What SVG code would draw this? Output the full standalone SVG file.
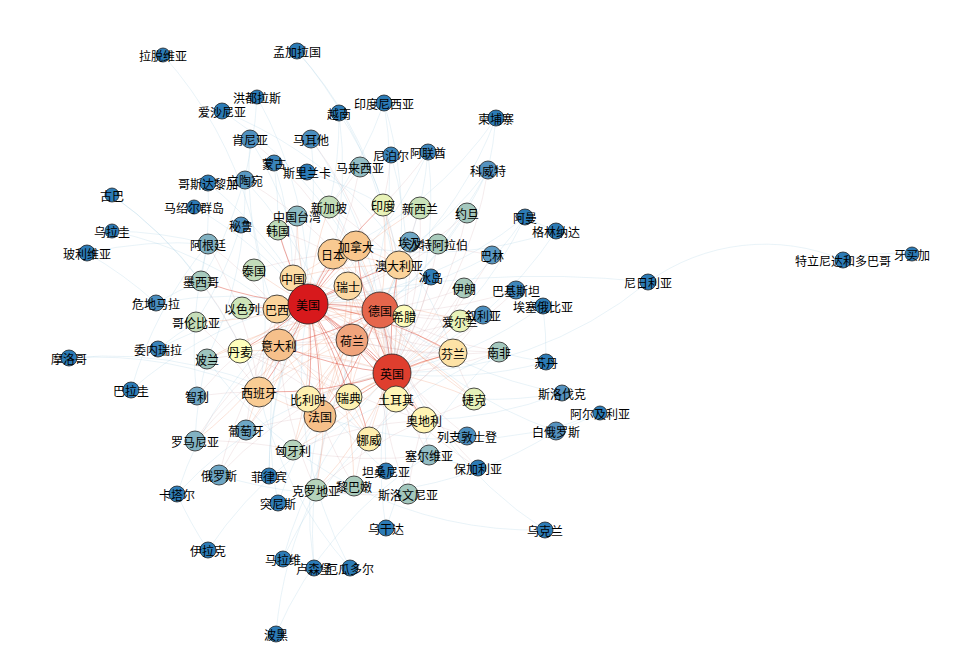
<svg xmlns="http://www.w3.org/2000/svg" width="973" height="653" viewBox="0 0 973 653">
<style>
.n circle{stroke:#222;stroke-width:0.8}
.n text{font-family:"Noto Sans CJK SC","Noto Sans",sans-serif;font-size:12px;text-anchor:middle;dominant-baseline:central;fill:#000}
#edges path{fill:none}
.e1{stroke:#d7301f;stroke-opacity:.4;stroke-width:1}
.e2{stroke:#ef8a62;stroke-opacity:.3;stroke-width:.8}
.e3{stroke:#c9959b;stroke-opacity:.3;stroke-width:.6}
.e4{stroke:#9ecae1;stroke-opacity:.38;stroke-width:.6}
</style>
<rect width="973" height="653" fill="#fff"/>
<g id="edges">
<g class="e4">
<path d="M163 55A400 400 0 0 1 259 392"/>
<path d="M222 111A400 400 0 0 1 453 353"/>
<path d="M222 111A400 400 0 0 1 380 310"/>
<path d="M257 97A400 400 0 0 1 308 304"/>
<path d="M257 97A400 400 0 0 1 201 281"/>
<path d="M297 51A400 400 0 0 1 392 373"/>
<path d="M297 51A400 400 0 0 1 383 205"/>
<path d="M339 113A400 400 0 0 1 333 254"/>
<path d="M339 113A400 400 0 0 1 399 265"/>
<path d="M339 113A400 400 0 0 1 329 207"/>
<path d="M384 103A400 400 0 0 1 399 265"/>
<path d="M384 103A400 400 0 0 1 352 340"/>
<path d="M384 103A400 400 0 0 1 329 207"/>
<path d="M391 155A400 400 0 0 1 392 373"/>
<path d="M428 152A400 400 0 0 1 392 373"/>
<path d="M428 152A400 400 0 0 1 308 304"/>
<path d="M428 152A400 400 0 0 1 380 310"/>
<path d="M496 118A400 400 0 0 1 488 170"/>
<path d="M496 118A400 400 0 0 1 399 265"/>
<path d="M496 118A400 400 0 0 1 333 254"/>
<path d="M488 170A400 400 0 0 1 438 244"/>
<path d="M488 170A400 400 0 0 1 308 304"/>
<path d="M488 170A400 400 0 0 1 380 310"/>
<path d="M525 217A400 400 0 0 1 392 373"/>
<path d="M525 217A400 400 0 0 1 464 288"/>
<path d="M525 217A400 400 0 0 1 308 304"/>
<path d="M556 231A400 400 0 0 1 392 373"/>
<path d="M556 231A400 400 0 0 1 356 246"/>
<path d="M556 231A400 400 0 0 1 525 217"/>
<path d="M648 282A400 400 0 0 1 392 373"/>
<path d="M648 282A1000 1000 0 0 0 308 304"/>
<path d="M648 282A200 200 0 0 1 843 260"/>
<path d="M843 260A200 200 0 0 1 912 254"/>
<path d="M543 306A400 400 0 0 1 392 373"/>
<path d="M543 306A400 400 0 0 1 546 362"/>
<path d="M543 306A400 400 0 0 1 516 290"/>
<path d="M546 362A400 400 0 0 1 392 373"/>
<path d="M546 362A400 400 0 0 1 499 352"/>
<path d="M562 393A400 400 0 0 1 474 399"/>
<path d="M562 393A400 400 0 0 1 424 420"/>
<path d="M562 393A400 400 0 0 1 380 310"/>
<path d="M600 413A400 400 0 0 1 320 416"/>
<path d="M600 413A400 400 0 0 1 556 431"/>
<path d="M556 431A400 400 0 0 1 219 475"/>
<path d="M556 431A400 400 0 0 1 380 310"/>
<path d="M545 530A400 400 0 0 1 380 310"/>
<path d="M545 530A400 400 0 0 1 207 359"/>
<path d="M478 468A400 400 0 0 1 429 455"/>
<path d="M386 471A400 400 0 0 1 392 373"/>
<path d="M386 471A400 400 0 0 1 250 139"/>
<path d="M386 528A400 400 0 0 1 392 373"/>
<path d="M386 528A400 400 0 0 1 499 352"/>
<path d="M350 568A400 400 0 0 1 259 392"/>
<path d="M350 568A400 400 0 0 1 308 304"/>
<path d="M314 568A400 400 0 0 1 380 310"/>
<path d="M314 568A400 400 0 0 1 320 416"/>
<path d="M283 559A400 400 0 0 1 392 373"/>
<path d="M283 559A400 400 0 0 1 499 352"/>
<path d="M276 634A400 400 0 0 1 316 490"/>
<path d="M276 634A400 400 0 0 1 429 455"/>
<path d="M208 550A400 400 0 0 1 396 399"/>
<path d="M208 550A400 400 0 0 1 177 494"/>
<path d="M177 494A400 400 0 0 1 308 304"/>
<path d="M177 494A400 400 0 0 1 392 373"/>
<path d="M278 503A400 400 0 0 1 320 416"/>
<path d="M278 503A400 400 0 0 1 279 345"/>
<path d="M269 476A400 400 0 0 1 308 304"/>
<path d="M269 476A400 400 0 0 1 333 254"/>
<path d="M195 441A400 400 0 0 1 207 359"/>
<path d="M197 396A400 400 0 0 1 208 244"/>
<path d="M131 390A400 400 0 0 1 208 244"/>
<path d="M131 390A400 400 0 0 1 277 309"/>
<path d="M69 358A400 400 0 0 1 320 416"/>
<path d="M69 358A400 400 0 0 1 259 392"/>
<path d="M158 349A400 400 0 0 1 196 322"/>
<path d="M158 349A400 400 0 0 1 308 304"/>
<path d="M156 303A400 400 0 0 1 201 281"/>
<path d="M156 303A400 400 0 0 1 308 304"/>
<path d="M87 253A400 400 0 0 1 208 244"/>
<path d="M87 253A400 400 0 0 1 156 303"/>
<path d="M112 231A400 400 0 0 1 208 244"/>
<path d="M112 231A400 400 0 0 1 277 309"/>
<path d="M112 195A400 400 0 0 1 201 281"/>
<path d="M112 195A400 400 0 0 1 259 392"/>
<path d="M194 207A400 400 0 0 1 308 304"/>
<path d="M241 225A400 400 0 0 1 308 304"/>
<path d="M241 225A400 400 0 0 1 196 322"/>
<path d="M208 183A400 400 0 0 1 308 304"/>
<path d="M208 183A400 400 0 0 1 201 281"/>
<path d="M245 180A400 400 0 0 1 207 359"/>
<path d="M245 180A400 400 0 0 1 349 397"/>
<path d="M274 163A400 400 0 0 1 293 278"/>
<path d="M274 163A400 400 0 0 1 278 230"/>
<path d="M307 172A400 400 0 0 1 383 205"/>
<path d="M307 172A400 400 0 0 1 392 373"/>
<path d="M250 139A400 400 0 0 1 308 304"/>
<path d="M311 139A400 400 0 0 1 279 345"/>
<path d="M311 139A400 400 0 0 1 380 310"/>
<path d="M492 255A400 400 0 0 1 308 304"/>
<path d="M467 213A400 400 0 0 1 380 310"/>
<path d="M410 242A400 400 0 0 1 380 310"/>
</g>
<g class="e3">
<path d="M208 244A400 400 0 0 1 277 309"/>
<path d="M208 244A400 400 0 0 1 259 392"/>
<path d="M410 242A400 400 0 0 1 392 373"/>
<path d="M438 244A400 400 0 0 1 308 304"/>
<path d="M464 288A400 400 0 0 1 380 310"/>
<path d="M467 213A400 400 0 0 1 392 373"/>
<path d="M499 352A400 400 0 0 1 392 373"/>
<path d="M316 490A400 400 0 0 1 380 310"/>
<path d="M354 486A400 400 0 0 1 320 416"/>
<path d="M408 494A400 400 0 0 1 424 420"/>
<path d="M429 455A400 400 0 0 1 424 420"/>
<path d="M195 441A400 400 0 0 1 279 345"/>
<path d="M219 475A400 400 0 0 1 380 310"/>
<path d="M246 430A400 400 0 0 1 320 416"/>
<path d="M197 396A400 400 0 0 1 259 392"/>
<path d="M254 270A400 400 0 0 1 333 254"/>
<path d="M278 230A400 400 0 0 1 333 254"/>
<path d="M297 216A400 400 0 0 1 293 278"/>
<path d="M329 207A400 400 0 0 1 399 265"/>
<path d="M360 167A400 400 0 0 1 329 207"/>
<path d="M420 208A400 400 0 0 1 392 373"/>
<path d="M488 170A400 400 0 0 1 392 373"/>
<path d="M311 139A400 400 0 0 1 392 373"/>
<path d="M250 139A400 400 0 0 1 392 373"/>
<path d="M245 180A400 400 0 0 1 380 310"/>
<path d="M391 155A400 400 0 0 1 383 205"/>
<path d="M428 152A400 400 0 0 1 383 205"/>
<path d="M242 308A400 400 0 0 1 380 310"/>
<path d="M242 308A400 400 0 0 1 392 373"/>
<path d="M201 281A400 400 0 0 1 259 392"/>
<path d="M196 322A400 400 0 0 1 259 392"/>
<path d="M207 359A400 400 0 0 1 392 373"/>
<path d="M293 450A400 400 0 0 1 424 420"/>
<path d="M316 490A400 400 0 0 1 424 420"/>
<path d="M408 494A400 400 0 0 1 380 310"/>
<path d="M429 455A400 400 0 0 1 380 310"/>
<path d="M410 242A400 400 0 0 1 308 304"/>
<path d="M438 244A400 400 0 0 1 392 373"/>
<path d="M464 288A400 400 0 0 1 392 373"/>
<path d="M467 213A400 400 0 0 1 308 304"/>
<path d="M499 352A400 400 0 0 1 308 304"/>
<path d="M499 352A400 400 0 0 1 352 340"/>
<path d="M499 352A400 400 0 0 1 380 310"/>
<path d="M474 399A400 400 0 0 1 424 420"/>
<path d="M474 399A400 400 0 0 1 453 353"/>
<path d="M460 321A400 400 0 0 1 380 310"/>
<path d="M460 321A400 400 0 0 1 352 340"/>
<path d="M240 351A400 400 0 0 1 349 397"/>
<path d="M240 351A400 400 0 0 1 369 439"/>
<path d="M369 439A400 400 0 0 1 453 353"/>
<path d="M453 353A400 400 0 0 1 352 340"/>
<path d="M329 207A400 400 0 0 1 392 373"/>
<path d="M360 167A400 400 0 0 1 308 304"/>
<path d="M278 230A400 400 0 0 1 293 278"/>
<path d="M383 205A400 400 0 0 1 399 265"/>
<path d="M420 208A400 400 0 0 1 399 265"/>
<path d="M431 277A400 400 0 0 1 380 310"/>
<path d="M431 277A400 400 0 0 1 392 373"/>
<path d="M483 315A400 400 0 0 1 380 310"/>
<path d="M483 315A400 400 0 0 1 396 399"/>
<path d="M492 255A400 400 0 0 1 392 373"/>
<path d="M492 255A400 400 0 0 1 438 244"/>
<path d="M516 290A400 400 0 0 1 392 373"/>
<path d="M516 290A400 400 0 0 1 308 304"/>
<path d="M464 288A400 400 0 0 1 396 399"/>
<path d="M396 399A400 400 0 0 1 424 420"/>
<path d="M424 420A400 400 0 0 1 279 345"/>
<path d="M404 316A400 400 0 0 1 279 345"/>
<path d="M467 436A400 400 0 0 1 348 286"/>
<path d="M467 436A400 400 0 0 1 424 420"/>
<path d="M478 468A400 400 0 0 1 380 310"/>
<path d="M478 468A400 400 0 0 1 396 399"/>
<path d="M429 455A400 400 0 0 1 293 450"/>
<path d="M408 494A400 400 0 0 1 316 490"/>
<path d="M316 490A400 400 0 0 1 279 345"/>
<path d="M195 441A400 400 0 0 1 380 310"/>
<path d="M195 441A400 400 0 0 1 293 450"/>
<path d="M219 475A400 400 0 0 1 453 353"/>
<path d="M219 475A400 400 0 0 1 308 304"/>
<path d="M197 396A400 400 0 0 1 308 304"/>
<path d="M246 430A400 400 0 0 1 277 309"/>
<path d="M354 486A400 400 0 0 1 392 373"/>
<path d="M293 450A400 400 0 0 1 320 416"/>
</g>
<g class="e2">
<path d="M333 254A400 400 0 0 1 356 246"/>
<path d="M333 254A400 400 0 0 1 293 278"/>
<path d="M333 254A400 400 0 0 1 380 310"/>
<path d="M356 246A400 400 0 0 1 399 265"/>
<path d="M348 286A400 400 0 0 1 352 340"/>
<path d="M348 286A400 400 0 0 1 392 373"/>
<path d="M348 286A400 400 0 0 1 279 345"/>
<path d="M348 286A400 400 0 0 1 320 416"/>
<path d="M352 340A400 400 0 0 1 320 416"/>
<path d="M352 340A400 400 0 0 1 279 345"/>
<path d="M352 340A400 400 0 0 1 308 399"/>
<path d="M352 340A400 400 0 0 1 349 397"/>
<path d="M279 345A400 400 0 0 1 259 392"/>
<path d="M320 416A400 400 0 0 1 259 392"/>
<path d="M349 397A400 400 0 0 1 453 353"/>
<path d="M349 397A400 400 0 0 1 369 439"/>
<path d="M349 397A400 400 0 0 1 392 373"/>
<path d="M453 353A400 400 0 0 1 380 310"/>
<path d="M424 420A400 400 0 0 1 380 310"/>
<path d="M424 420A400 400 0 0 1 392 373"/>
<path d="M396 399A400 400 0 0 1 380 310"/>
<path d="M404 316A400 400 0 0 1 392 373"/>
<path d="M308 399A400 400 0 0 1 392 373"/>
<path d="M369 439A400 400 0 0 1 392 373"/>
<path d="M240 351A400 400 0 0 1 392 373"/>
<path d="M240 351A400 400 0 0 1 380 310"/>
<path d="M293 278A400 400 0 0 1 399 265"/>
<path d="M333 254A400 400 0 0 1 399 265"/>
<path d="M356 246A400 400 0 0 1 380 310"/>
<path d="M277 309A400 400 0 0 1 259 392"/>
<path d="M277 309A400 400 0 0 1 279 345"/>
<path d="M293 278A400 400 0 0 1 380 310"/>
<path d="M293 278A400 400 0 0 1 392 373"/>
<path d="M399 265A400 400 0 0 1 380 310"/>
<path d="M259 392A400 400 0 0 1 380 310"/>
<path d="M259 392A400 400 0 0 1 352 340"/>
<path d="M308 399A400 400 0 0 1 380 310"/>
<path d="M349 397A400 400 0 0 1 380 310"/>
<path d="M279 345A400 400 0 0 1 320 416"/>
<path d="M474 399A400 400 0 0 1 380 310"/>
<path d="M460 321A400 400 0 0 1 392 373"/>
<path d="M383 205A400 400 0 0 1 392 373"/>
<path d="M383 205A400 400 0 0 1 380 310"/>
<path d="M424 420A400 400 0 0 1 348 286"/>
<path d="M404 316A400 400 0 0 1 308 304"/>
<path d="M246 430A400 400 0 0 1 259 392"/>
<path d="M207 359A400 400 0 0 1 380 310"/>
<path d="M293 450A400 400 0 0 1 380 310"/>
<path d="M277 309A400 400 0 0 1 392 373"/>
<path d="M277 309A400 400 0 0 1 380 310"/>
<path d="M279 345A400 400 0 0 1 369 439"/>
<path d="M320 416A400 400 0 0 1 453 353"/>
<path d="M333 254A400 400 0 0 1 392 373"/>
<path d="M356 246A400 400 0 0 1 320 416"/>
<path d="M308 304A400 400 0 0 1 246 430"/>
<path d="M308 304A400 400 0 0 1 293 450"/>
<path d="M308 304A400 400 0 0 1 316 490"/>
<path d="M308 304A400 400 0 0 1 195 441"/>
<path d="M308 304A400 400 0 0 1 354 486"/>
<path d="M308 304A400 400 0 0 1 196 322"/>
<path d="M308 304A400 400 0 0 1 207 359"/>
<path d="M308 304A400 400 0 0 1 254 270"/>
<path d="M308 304A400 400 0 0 1 297 216"/>
<path d="M308 304A400 400 0 0 1 329 207"/>
<path d="M308 304A400 400 0 0 1 420 208"/>
<path d="M308 304A400 400 0 0 1 460 321"/>
<path d="M308 304A400 400 0 0 1 474 399"/>
<path d="M392 373A400 400 0 0 1 474 399"/>
<path d="M392 373A400 400 0 0 1 293 450"/>
<path d="M392 373A400 400 0 0 1 316 490"/>
</g>
<g class="e1">
<path d="M308 304A400 400 0 0 1 380 310"/>
<path d="M308 304A400 400 0 0 1 392 373"/>
<path d="M308 304A400 400 0 0 1 352 340"/>
<path d="M308 304A400 400 0 0 1 333 254"/>
<path d="M308 304A400 400 0 0 1 356 246"/>
<path d="M308 304A400 400 0 0 1 348 286"/>
<path d="M308 304A400 400 0 0 1 293 278"/>
<path d="M308 304A400 400 0 0 1 279 345"/>
<path d="M308 304A400 400 0 0 1 320 416"/>
<path d="M308 304A400 400 0 0 1 259 392"/>
<path d="M308 304A400 400 0 0 1 399 265"/>
<path d="M308 304A400 400 0 0 1 308 399"/>
<path d="M308 304A400 400 0 0 1 349 397"/>
<path d="M308 304A400 400 0 0 1 453 353"/>
<path d="M308 304A400 400 0 0 1 396 399"/>
<path d="M308 304A400 400 0 0 1 424 420"/>
<path d="M308 304A400 400 0 0 1 369 439"/>
<path d="M380 310A400 400 0 0 1 392 373"/>
<path d="M380 310A400 400 0 0 1 352 340"/>
<path d="M380 310A400 400 0 0 1 279 345"/>
<path d="M380 310A400 400 0 0 1 320 416"/>
<path d="M392 373A400 400 0 0 1 352 340"/>
<path d="M392 373A400 400 0 0 1 320 416"/>
<path d="M392 373A400 400 0 0 1 279 345"/>
<path d="M392 373A400 400 0 0 1 356 246"/>
<path d="M392 373A400 400 0 0 1 399 265"/>
<path d="M392 373A400 400 0 0 1 259 392"/>
<path d="M392 373A400 400 0 0 1 453 353"/>
<path d="M308 304A400 400 0 0 1 240 351"/>
<path d="M308 304A400 400 0 0 1 383 205"/>
<path d="M308 304A400 400 0 0 1 278 230"/>
<path d="M308 304A400 400 0 0 1 242 308"/>
<path d="M308 304A400 400 0 0 1 201 281"/>
</g>
</g>
<g id="nodes">
<g id="n-gb" class="n"><circle cx="392" cy="373" r="19" fill="#df3e2e"/><text x="392" y="373">英国</text></g>
<g id="n-de" class="n"><circle cx="380" cy="310" r="18" fill="#e5664c"/><text x="380" y="310">德国</text></g>
<g id="n-nl" class="n"><circle cx="352" cy="340" r="16" fill="#f0a47c"/><text x="352" y="340">荷兰</text></g>
<g id="n-it" class="n"><circle cx="279" cy="345" r="16" fill="#f6c08b"/><text x="279" y="345">意大利</text></g>
<g id="n-fr" class="n"><circle cx="320" cy="416" r="16" fill="#f6c089"/><text x="320" y="416">法国</text></g>
<g id="n-jp" class="n"><circle cx="333" cy="254" r="15" fill="#f8c991"/><text x="333" y="254">日本</text></g>
<g id="n-ca" class="n"><circle cx="356" cy="246" r="15" fill="#f8c68d"/><text x="356" y="246">加拿大</text></g>
<g id="n-es" class="n"><circle cx="259" cy="392" r="15" fill="#f9cc94"/><text x="259" y="392">西班牙</text></g>
<g id="n-ch" class="n"><circle cx="348" cy="286" r="14" fill="#fcd9a2"/><text x="348" y="286">瑞士</text></g>
<g id="n-br" class="n"><circle cx="277" cy="309" r="14" fill="#fbd39b"/><text x="277" y="309">巴西</text></g>
<g id="n-au" class="n"><circle cx="399" cy="265" r="14" fill="#fbd39b"/><text x="399" y="265">澳大利亚</text></g>
<g id="n-fi" class="n"><circle cx="453" cy="353" r="14" fill="#fde2a6"/><text x="453" y="353">芬兰</text></g>
<g id="n-cn" class="n"><circle cx="293" cy="278" r="13" fill="#fddca4"/><text x="293" y="278">中国</text></g>
<g id="n-us" class="n"><circle cx="308" cy="304" r="20" fill="#d7191c"/><text x="308" y="304">美国</text></g>
<g id="n-se" class="n"><circle cx="349" cy="397" r="13" fill="#fef2b2"/><text x="349" y="397">瑞典</text></g>
<g id="n-tr" class="n"><circle cx="396" cy="399" r="13" fill="#fff5b6"/><text x="396" y="399">土耳其</text></g>
<g id="n-at" class="n"><circle cx="424" cy="420" r="13" fill="#fff4b3"/><text x="424" y="420">奥地利</text></g>
<g id="n-be" class="n"><circle cx="308" cy="399" r="13" fill="#fef0b0"/><text x="308" y="399">比利时</text></g>
<g id="n-no" class="n"><circle cx="369" cy="439" r="12" fill="#feeeae"/><text x="369" y="439">挪威</text></g>
<g id="n-dk" class="n"><circle cx="240" cy="351" r="12" fill="#ffffbc"/><text x="240" y="351">丹麦</text></g>
<g id="n-gr" class="n"><circle cx="404" cy="316" r="11" fill="#fcfbba"/><text x="404" y="316">希腊</text></g>
<g id="n-cz" class="n"><circle cx="474" cy="399" r="11" fill="#e5f1b9"/><text x="474" y="399">捷克</text></g>
<g id="n-ie" class="n"><circle cx="460" cy="321" r="11" fill="#e9f3b9"/><text x="460" y="321">爱尔兰</text></g>
<g id="n-in" class="n"><circle cx="383" cy="205" r="11" fill="#e8f2b7"/><text x="383" y="205">印度</text></g>
<g id="n-nz" class="n"><circle cx="420" cy="208" r="11" fill="#c9e2b9"/><text x="420" y="208">新西兰</text></g>
<g id="n-sg" class="n"><circle cx="329" cy="207" r="11" fill="#c3ddb9"/><text x="329" y="207">新加坡</text></g>
<g id="n-il" class="n"><circle cx="242" cy="308" r="11" fill="#cde5b8"/><text x="242" y="308">以色列</text></g>
<g id="n-th" class="n"><circle cx="254" cy="270" r="11" fill="#c2dcb9"/><text x="254" y="270">泰国</text></g>
<g id="n-hr" class="n"><circle cx="316" cy="490" r="11" fill="#b5d3bb"/><text x="316" y="490">克罗地亚</text></g>
<g id="n-my" class="n"><circle cx="360" cy="167" r="10" fill="#93bdc3"/><text x="360" y="167">马来西亚</text></g>
<g id="n-kr" class="n"><circle cx="278" cy="230" r="10" fill="#bfdab9"/><text x="278" y="230">韩国</text></g>
<g id="n-tw" class="n"><circle cx="297" cy="216" r="10" fill="#8dbac3"/><text x="297" y="216">中国台湾</text></g>
<g id="n-mx" class="n"><circle cx="201" cy="281" r="10" fill="#a6c9bd"/><text x="201" y="281">墨西哥</text></g>
<g id="n-co" class="n"><circle cx="196" cy="322" r="10" fill="#c6deb9"/><text x="196" y="322">哥伦比亚</text></g>
<g id="n-pl" class="n"><circle cx="207" cy="359" r="10" fill="#9ec5bd"/><text x="207" y="359">波兰</text></g>
<g id="n-ar" class="n"><circle cx="208" cy="244" r="10" fill="#82b2c2"/><text x="208" y="244">阿根廷</text></g>
<g id="n-eg" class="n"><circle cx="410" cy="242" r="10" fill="#6ea6c4"/><text x="410" y="242">埃及</text></g>
<g id="n-sa" class="n"><circle cx="438" cy="244" r="10" fill="#a9cbbc"/><text x="438" y="244">沙特阿拉伯</text></g>
<g id="n-ir" class="n"><circle cx="464" cy="288" r="10" fill="#a9cbbc"/><text x="464" y="288">伊朗</text></g>
<g id="n-jo" class="n"><circle cx="467" cy="213" r="10" fill="#a3c7bd"/><text x="467" y="213">约旦</text></g>
<g id="n-za" class="n"><circle cx="499" cy="352" r="10" fill="#a3c7bd"/><text x="499" y="352">南非</text></g>
<g id="n-rs" class="n"><circle cx="429" cy="455" r="10" fill="#93bdc3"/><text x="429" y="455">塞尔维亚</text></g>
<g id="n-si" class="n"><circle cx="408" cy="494" r="10" fill="#a3c7bd"/><text x="408" y="494">斯洛文尼亚</text></g>
<g id="n-lb" class="n"><circle cx="354" cy="486" r="10" fill="#aacbbc"/><text x="354" y="486">黎巴嫩</text></g>
<g id="n-hu" class="n"><circle cx="293" cy="450" r="10" fill="#b5d3bb"/><text x="293" y="450">匈牙利</text></g>
<g id="n-pt" class="n"><circle cx="246" cy="430" r="10" fill="#6ea6c4"/><text x="246" y="430">葡萄牙</text></g>
<g id="n-ro" class="n"><circle cx="195" cy="441" r="10" fill="#82b2c2"/><text x="195" y="441">罗马尼亚</text></g>
<g id="n-ru" class="n"><circle cx="219" cy="475" r="10" fill="#6ea6c4"/><text x="219" y="475">俄罗斯</text></g>
<g id="n-bh" class="n"><circle cx="492" cy="255" r="9" fill="#5a98c2"/><text x="492" y="255">巴林</text></g>
<g id="n-pk" class="n"><circle cx="516" cy="290" r="9" fill="#3f86bb"/><text x="516" y="290">巴基斯坦</text></g>
<g id="n-sy" class="n"><circle cx="483" cy="315" r="9" fill="#4b8ebf"/><text x="483" y="315">叙利亚</text></g>
<g id="n-by" class="n"><circle cx="556" cy="431" r="9" fill="#5592bf"/><text x="556" y="431">白俄罗斯</text></g>
<g id="n-li" class="n"><circle cx="467" cy="436" r="9" fill="#4b8ebf"/><text x="467" y="436">列支敦士登</text></g>
<g id="n-cl" class="n"><circle cx="197" cy="396" r="9" fill="#6ea6c4"/><text x="197" y="396">智利</text></g>
<g id="n-lt" class="n"><circle cx="245" cy="180" r="9" fill="#5a98c2"/><text x="245" y="180">立陶宛</text></g>
<g id="n-ke" class="n"><circle cx="250" cy="139" r="9" fill="#4f90bf"/><text x="250" y="139">肯尼亚</text></g>
<g id="n-mt" class="n"><circle cx="311" cy="139" r="9" fill="#4b8ebf"/><text x="311" y="139">马耳他</text></g>
<g id="n-kw" class="n"><circle cx="488" cy="170" r="9" fill="#5592bf"/><text x="488" y="170">科威特</text></g>
<g id="n-is" class="n"><circle cx="431" cy="277" r="8" fill="#2f7db8"/><text x="431" y="277">冰岛</text></g>
<g id="n-et" class="n"><circle cx="543" cy="306" r="8" fill="#2c7bb6"/><text x="543" y="306">埃塞俄比亚</text></g>
<g id="n-sd" class="n"><circle cx="546" cy="362" r="8" fill="#2c7bb6"/><text x="546" y="362">苏丹</text></g>
<g id="n-sk" class="n"><circle cx="562" cy="393" r="8" fill="#5592bf"/><text x="562" y="393">斯洛伐克</text></g>
<g id="n-bg" class="n"><circle cx="478" cy="468" r="8" fill="#2c7bb6"/><text x="478" y="468">保加利亚</text></g>
<g id="n-tz" class="n"><circle cx="386" cy="471" r="8" fill="#2c7bb6"/><text x="386" y="471">坦桑尼亚</text></g>
<g id="n-ph" class="n"><circle cx="269" cy="476" r="8" fill="#2f7db8"/><text x="269" y="476">菲律宾</text></g>
<g id="n-qa" class="n"><circle cx="177" cy="494" r="8" fill="#2f7db8"/><text x="177" y="494">卡塔尔</text></g>
<g id="n-tn" class="n"><circle cx="278" cy="503" r="8" fill="#2f7db8"/><text x="278" y="503">突尼斯</text></g>
<g id="n-iq" class="n"><circle cx="208" cy="550" r="8" fill="#2c7bb6"/><text x="208" y="550">伊拉克</text></g>
<g id="n-mw" class="n"><circle cx="283" cy="559" r="8" fill="#2c7bb6"/><text x="283" y="559">马拉维</text></g>
<g id="n-lu" class="n"><circle cx="314" cy="568" r="8" fill="#2c7bb6"/><text x="314" y="568">卢森堡</text></g>
<g id="n-ec" class="n"><circle cx="350" cy="568" r="8" fill="#2c7bb6"/><text x="350" y="568">厄瓜多尔</text></g>
<g id="n-ug" class="n"><circle cx="386" cy="528" r="8" fill="#2c7bb6"/><text x="386" y="528">乌干达</text></g>
<g id="n-ua" class="n"><circle cx="545" cy="530" r="8" fill="#2c7bb6"/><text x="545" y="530">乌克兰</text></g>
<g id="n-ba" class="n"><circle cx="276" cy="634" r="8" fill="#2c7bb6"/><text x="276" y="634">波黑</text></g>
<g id="n-ve" class="n"><circle cx="158" cy="349" r="8" fill="#3a84ba"/><text x="158" y="349">委内瑞拉</text></g>
<g id="n-py" class="n"><circle cx="131" cy="390" r="8" fill="#2c7bb6"/><text x="131" y="390">巴拉圭</text></g>
<g id="n-ma" class="n"><circle cx="69" cy="358" r="8" fill="#2c7bb6"/><text x="69" y="358">摩洛哥</text></g>
<g id="n-gt" class="n"><circle cx="156" cy="303" r="8" fill="#4b8ebf"/><text x="156" y="303">危地马拉</text></g>
<g id="n-bo" class="n"><circle cx="87" cy="253" r="8" fill="#2c7bb6"/><text x="87" y="253">玻利维亚</text></g>
<g id="n-pe" class="n"><circle cx="241" cy="225" r="8" fill="#4b8ebf"/><text x="241" y="225">秘鲁</text></g>
<g id="n-cr" class="n"><circle cx="208" cy="183" r="8" fill="#2c7bb6"/><text x="208" y="183">哥斯达黎加</text></g>
<g id="n-mn" class="n"><circle cx="274" cy="163" r="8" fill="#3a84ba"/><text x="274" y="163">蒙古</text></g>
<g id="n-lk" class="n"><circle cx="307" cy="172" r="8" fill="#2c7bb6"/><text x="307" y="172">斯里兰卡</text></g>
<g id="n-ee" class="n"><circle cx="222" cy="111" r="8" fill="#2c7bb6"/><text x="222" y="111">爱沙尼亚</text></g>
<g id="n-bd" class="n"><circle cx="297" cy="51" r="8" fill="#2c7bb6"/><text x="297" y="51">孟加拉国</text></g>
<g id="n-vn" class="n"><circle cx="339" cy="113" r="8" fill="#2c7bb6"/><text x="339" y="113">越南</text></g>
<g id="n-id" class="n"><circle cx="384" cy="103" r="8" fill="#2c7bb6"/><text x="384" y="103">印度尼西亚</text></g>
<g id="n-np" class="n"><circle cx="391" cy="155" r="8" fill="#3a84ba"/><text x="391" y="155">尼泊尔</text></g>
<g id="n-ae" class="n"><circle cx="428" cy="152" r="8" fill="#3f86bb"/><text x="428" y="152">阿联酋</text></g>
<g id="n-kh" class="n"><circle cx="496" cy="118" r="8" fill="#2c7bb6"/><text x="496" y="118">柬埔寨</text></g>
<g id="n-om" class="n"><circle cx="525" cy="217" r="8" fill="#2c7bb6"/><text x="525" y="217">阿曼</text></g>
<g id="n-gd" class="n"><circle cx="556" cy="231" r="8" fill="#2c7bb6"/><text x="556" y="231">格林纳达</text></g>
<g id="n-ng" class="n"><circle cx="648" cy="282" r="8" fill="#2c7bb6"/><text x="648" y="282">尼日利亚</text></g>
<g id="n-tt" class="n"><circle cx="843" cy="260" r="8" fill="#2c7bb6"/><text x="843" y="260">特立尼达和多巴哥</text></g>
<g id="n-dz" class="n"><circle cx="600" cy="413" r="7" fill="#2c7bb6"/><text x="600" y="413">阿尔及利亚</text></g>
<g id="n-uy" class="n"><circle cx="112" cy="231" r="7" fill="#2c7bb6"/><text x="112" y="231">乌拉圭</text></g>
<g id="n-cu" class="n"><circle cx="112" cy="195" r="7" fill="#2c7bb6"/><text x="112" y="195">古巴</text></g>
<g id="n-mh" class="n"><circle cx="194" cy="207" r="7" fill="#2c7bb6"/><text x="194" y="207">马绍尔群岛</text></g>
<g id="n-hn" class="n"><circle cx="257" cy="97" r="7" fill="#2c7bb6"/><text x="257" y="97">洪都拉斯</text></g>
<g id="n-lv" class="n"><circle cx="163" cy="55" r="7" fill="#2c7bb6"/><text x="163" y="55">拉脱维亚</text></g>
<g id="n-jm" class="n"><circle cx="912" cy="254" r="7" fill="#2c7bb6"/><text x="912" y="254">牙买加</text></g>
</g>
</svg>
